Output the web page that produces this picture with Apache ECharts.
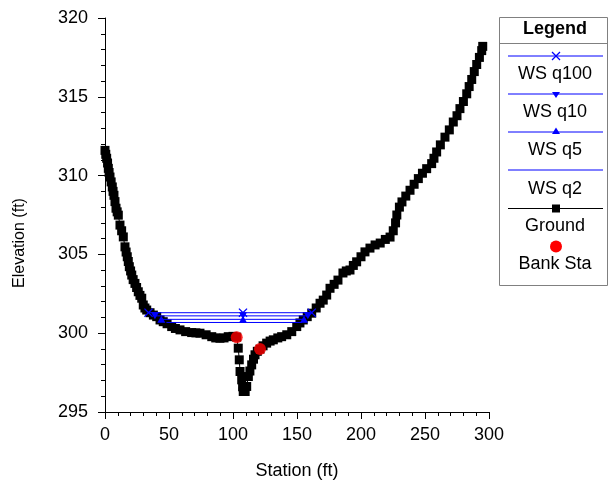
<!DOCTYPE html>
<html><head><meta charset="utf-8">
<script src="https://cdn.jsdelivr.net/npm/echarts@6/dist/echarts.min.js"></script>
<style>html,body{margin:0;padding:0;background:#fff}#c{width:610px;height:487px}</style>
</head><body><div id="c"></div>
<script>
// ---- data ----
const groundStation = [0, 0.6, 1.3, 2.0, 2.6, 3.2, 3.9, 4.8, 5.7, 6.3, 7.0, 7.8, 8.6, 9.5, 10.4, 11.7, 13.0, 14.3, 15.6, 16.5, 17.4, 18.2, 19.0, 20.0, 20.9, 22.0, 23.4, 24.7, 26.0, 27.3, 28.7, 29.9, 31.2, 32.6, 35.2, 37.8, 40.4, 43.0, 45.5, 48.5, 52.1, 55.0, 58.6, 63.0, 67.7, 71.0, 74.2, 79.0, 83.4, 86.5, 89.8, 93.0, 96.3, 100.0, 102.9, 104.1, 104.9, 105.5, 106.8, 107.5, 108.0, 109.5, 110.7, 112.0, 113.2, 114.6, 116.0, 117.2, 119.0, 121.1, 123.5, 126.3, 129.0, 131.5, 135.0, 138.0, 142.0, 145.9, 149.8, 152.3, 154.9, 158.0, 161.5, 165.0, 168.0, 170.5, 173.2, 175.8, 179.0, 182.0, 185.9, 188.5, 191.4, 194.0, 196.6, 200.0, 203.1, 207.0, 211.0, 215.0, 219.0, 222.7, 225.2, 227.0, 228.0, 230.0, 232.0, 235.0, 238.3, 241.5, 244.8, 248.0, 251.3, 255.2, 257.0, 259.1, 262.0, 265.6, 269.0, 272.1, 275.0, 277.3, 280.0, 282.6, 284.5, 286.5, 288.5, 290.4, 292.5, 294.3, 295.1];
const groundElevation = [311.6, 311.35, 311.1, 310.8, 310.46, 310.2, 309.91, 309.6, 309.28, 309.0, 308.75, 308.35, 307.93, 307.7, 307.49, 306.86, 306.5, 306.11, 305.48, 305.15, 304.85, 304.55, 304.22, 303.95, 303.69, 303.4, 303.16, 302.9, 302.63, 302.4, 302.22, 301.79, 301.6, 301.47, 301.3, 301.15, 301.05, 300.84, 300.73, 300.6, 300.42, 300.3, 300.21, 300.1, 300.04, 300.02, 300.0, 299.9, 299.78, 299.7, 299.68, 299.7, 299.78, 299.8, 299.75, 299.05, 298.31, 297.57, 297.04, 296.6, 296.3, 296.3, 296.62, 297.25, 297.6, 297.99, 298.35, 298.63, 298.85, 298.99, 299.2, 299.37, 299.5, 299.58, 299.7, 299.78, 299.9, 300.1, 300.42, 300.65, 300.84, 301.05, 301.27, 301.6, 301.9, 302.1, 302.42, 302.85, 303.1, 303.37, 303.82, 303.95, 304.01, 304.3, 304.53, 304.85, 305.16, 305.4, 305.6, 305.72, 305.95, 306.1, 306.5, 307.0, 307.5, 308.0, 308.33, 308.7, 309.07, 309.45, 309.81, 310.15, 310.44, 310.76, 311.1, 311.5, 311.95, 312.44, 312.9, 313.4, 313.8, 314.25, 314.7, 315.19, 315.65, 316.1, 316.6, 317.05, 317.5, 317.93, 318.2];

const wsQ100Station = [34, 107.8, 161.5];
const wsQ100Elevation = [301.30, 301.30, 301.30];
const wsQ10Station = [39, 107.8, 158.5];
const wsQ10Elevation = [301.10, 301.10, 301.10];
const wsQ5Station = [44, 107.8, 155.5];
const wsQ5Elevation = [300.88, 300.88, 300.88];
const wsQ2Station = [48, 154];
const wsQ2Elevation = [300.68, 300.68];

const bankStation = [102.9, 121.1];
const bankElevation = [299.75, 299.0];

const xTickValues = [0, 50, 100, 150, 200, 250, 300];
const yTickValues = [295, 300, 305, 310, 315, 320];
const legendLabels = ['WS q100', 'WS q10', 'WS q5', 'WS q2', 'Ground', 'Bank Sta'];

function pairs(xs, ys) { return xs.map((x, i) => [x, ys[i]]); }

const FONT = '"Liberation Sans", Arial, sans-serif';
const BLUE = '#0000ff';
const CROSS = 'path://M0,1L1,0L5,4L9,0L10,1L6,5L10,9L9,10L5,6L1,10L0,9L4,5Z';

const chart = echarts.init(document.getElementById('c'), null, {renderer: 'canvas'});

// legend drawn as graphics
const L = {x0: 499.5, x1: 607.5, y0: 17.5, y1: 285.5, cx: 556, lx0: 508, lx1: 603};
const legendGraphics = [
  {type: 'rect', shape: {x: L.x0, y: L.y0, width: L.x1 - L.x0, height: L.y1 - L.y0}, style: {fill: '#fff', stroke: '#808080', lineWidth: 1}},
  {type: 'text', x: L.cx - 1, y: 29, style: {text: 'Legend', font: 'bold 18px ' + FONT, fill: '#000', align: 'center', verticalAlign: 'middle'}},
  {type: 'line', shape: {x1: L.x0, y1: 43.5, x2: L.x1, y2: 43.5}, style: {stroke: '#808080', lineWidth: 1}},
  {type: 'text', x: 20, y: 243, rotation: Math.PI / 2, style: {text: 'Elevation (ft)', font: '16px ' + FONT, fill: '#000', align: 'center', verticalAlign: 'middle'}}
];
const lineYs = [56, 94, 132, 170, 208.5];
const textYs = [74, 112, 150, 189, 226, 264];
const lineColors = [BLUE, BLUE, BLUE, BLUE, '#000'];
lineYs.forEach((y, i) => {
  legendGraphics.push({type: 'line', shape: {x1: L.lx0, y1: y, x2: L.lx1, y2: y}, style: {stroke: lineColors[i], lineWidth: 1}});
});
// markers
legendGraphics.push({type: 'polyline', shape: {points: [[552, 52], [560, 60]]}, style: {stroke: BLUE, lineWidth: 1.2}});
legendGraphics.push({type: 'polyline', shape: {points: [[552, 60], [560, 52]]}, style: {stroke: BLUE, lineWidth: 1.2}});
legendGraphics.push({type: 'polygon', shape: {points: [[552, 92], [560, 92], [556, 98]]}, style: {fill: BLUE}});
legendGraphics.push({type: 'polygon', shape: {points: [[552, 134], [560, 134], [556, 127.5]]}, style: {fill: BLUE}});
legendGraphics.push({type: 'rect', shape: {x: 552, y: 204.5, width: 8, height: 8}, style: {fill: '#000'}});
legendGraphics.push({type: 'circle', shape: {cx: 556, cy: 246.5, r: 6}, style: {fill: '#ff0000'}});
legendLabels.forEach((t, i) => {
  legendGraphics.push({type: 'text', x: L.cx - 1, y: textYs[i], style: {text: t, font: '18px ' + FONT, fill: '#000', align: 'center', verticalAlign: 'middle'}});
});

const axisCommon = {
  axisLine: {show: true, onZero: false, lineStyle: {color: '#000', width: 1}},
  axisTick: {show: true, inside: false, length: 7, lineStyle: {color: '#000'}},
  minorTick: {show: true, splitNumber: 5, length: 4, lineStyle: {color: '#000'}},
  splitLine: {show: false},
  axisLabel: {color: '#000', fontSize: 18, fontFamily: FONT},
  nameTextStyle: {color: '#000', fontFamily: FONT}
};

chart.setOption({
  animation: false,
  backgroundColor: '#fff',
  grid: {left: 105, right: 121, top: 18, bottom: 75, containLabel: false},
  xAxis: Object.assign({}, axisCommon, {
    type: 'value', min: xTickValues[0], max: xTickValues[xTickValues.length - 1], interval: 50,
    name: 'Station (ft)', nameLocation: 'middle', nameGap: 50,
    nameTextStyle: {color: '#000', fontFamily: FONT, fontSize: 18},
    axisLabel: {color: '#000', fontSize: 18, fontFamily: FONT, margin: 14}
  }),
  yAxis: Object.assign({}, axisCommon, {
    type: 'value', min: yTickValues[0], max: yTickValues[yTickValues.length - 1], interval: 5,
    axisLabel: {color: '#000', fontSize: 18, fontFamily: FONT, margin: 17}
  }),
  series: [
    {name: 'Ground', type: 'line', data: pairs(groundStation, groundElevation), symbol: 'rect', symbolSize: 9,
      itemStyle: {color: '#000'}, lineStyle: {color: '#000', width: 1}, z: 2},
    {name: 'WS q2', type: 'line', data: pairs(wsQ2Station, wsQ2Elevation), showSymbol: false, symbol: 'none',
      lineStyle: {color: BLUE, width: 1}, z: 3},
    {name: 'WS q5', type: 'line', data: pairs(wsQ5Station, wsQ5Elevation), symbol: 'triangle', symbolSize: [8, 7],
      itemStyle: {color: BLUE}, lineStyle: {color: BLUE, width: 1}, z: 3},
    {name: 'WS q10', type: 'line', data: pairs(wsQ10Station, wsQ10Elevation), symbol: 'triangle', symbolRotate: 180, symbolSize: [8, 7],
      itemStyle: {color: BLUE}, lineStyle: {color: BLUE, width: 1}, z: 3},
    {name: 'WS q100', type: 'line', data: pairs(wsQ100Station, wsQ100Elevation), symbol: CROSS, symbolSize: 9,
      itemStyle: {color: BLUE}, lineStyle: {color: BLUE, width: 1}, z: 3},
    {name: 'Bank Sta', type: 'scatter', data: pairs(bankStation, bankElevation), symbol: 'circle', symbolSize: 12,
      itemStyle: {color: '#ff0000'}, z: 4}
  ],
  graphic: legendGraphics
});
</script></body></html>
